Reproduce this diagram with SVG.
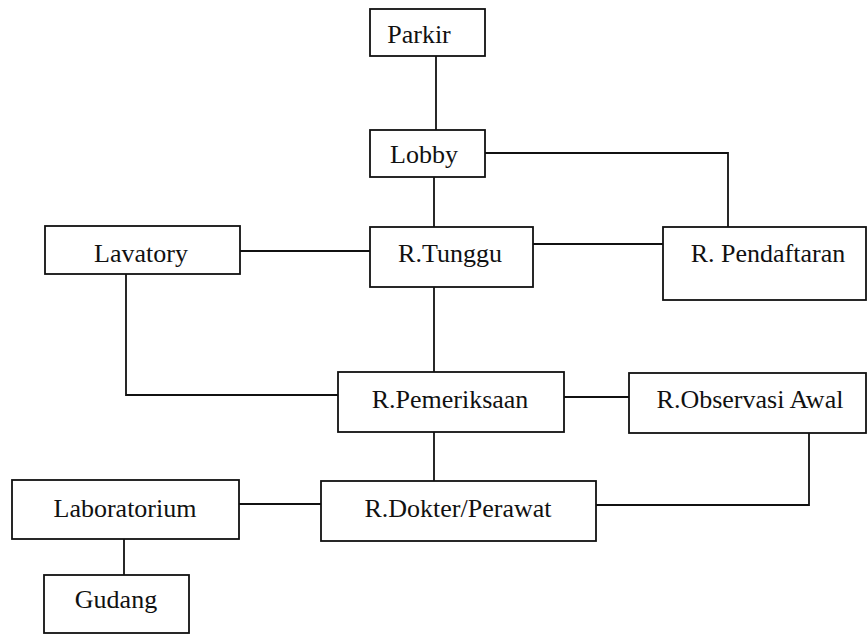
<svg xmlns="http://www.w3.org/2000/svg" width="867" height="635" viewBox="0 0 867 635">
  <style>
    .box { fill: #fff; stroke: #111; stroke-width: 1.8; }
    .lbl { font-family: "Liberation Serif", "Times New Roman", serif; font-size: 26px; fill: #111; text-anchor: middle; }
    .wire { fill: none; stroke: #111; stroke-width: 1.8; }
  </style>
  <rect width="867" height="635" fill="#fff"/>

  <g id="connectors">
    <path class="wire" d="M436 56 V130"/>
    <path class="wire" d="M434 177 V227"/>
    <path class="wire" d="M485 153 H728 V227"/>
    <path class="wire" d="M240 251 H370"/>
    <path class="wire" d="M533 244 H663"/>
    <path class="wire" d="M434 287 V372"/>
    <path class="wire" d="M126 274 V395 H338"/>
    <path class="wire" d="M564 397 H629"/>
    <path class="wire" d="M434 432 V481"/>
    <path class="wire" d="M239 504 H321"/>
    <path class="wire" d="M596 505 H809 V433"/>
    <path class="wire" d="M124 539 V575"/>
  </g>

  <g id="parkir">
    <rect class="box" x="370" y="9" width="115" height="47"/>
    <text class="lbl" x="419" y="43">Parkir</text>
  </g>
  <g id="lobby">
    <rect class="box" x="370" y="130" width="115" height="47"/>
    <text class="lbl" x="424" y="163">Lobby</text>
  </g>
  <g id="lavatory">
    <rect class="box" x="45" y="226" width="195" height="48"/>
    <text class="lbl" x="141" y="262">Lavatory</text>
  </g>
  <g id="r-tunggu">
    <rect class="box" x="370" y="227" width="163" height="60"/>
    <text class="lbl" x="450" y="262">R.Tunggu</text>
  </g>
  <g id="r-pendaftaran">
    <rect class="box" x="663" y="227" width="203" height="73"/>
    <text class="lbl" x="768" y="262">R. Pendaftaran</text>
  </g>
  <g id="r-pemeriksaan">
    <rect class="box" x="338" y="372" width="226" height="60"/>
    <text class="lbl" x="450" y="408">R.Pemeriksaan</text>
  </g>
  <g id="r-observasi-awal">
    <rect class="box" x="629" y="373" width="237" height="60"/>
    <text class="lbl" x="750" y="408">R.Observasi Awal</text>
  </g>
  <g id="laboratorium">
    <rect class="box" x="12" y="480" width="227" height="59"/>
    <text class="lbl" x="125" y="517">Laboratorium</text>
  </g>
  <g id="r-dokter-perawat">
    <rect class="box" x="321" y="481" width="275" height="60"/>
    <text class="lbl" x="458" y="517">R.Dokter/Perawat</text>
  </g>
  <g id="gudang">
    <rect class="box" x="44" y="575" width="145" height="58"/>
    <text class="lbl" x="116" y="608">Gudang</text>
  </g>
</svg>
